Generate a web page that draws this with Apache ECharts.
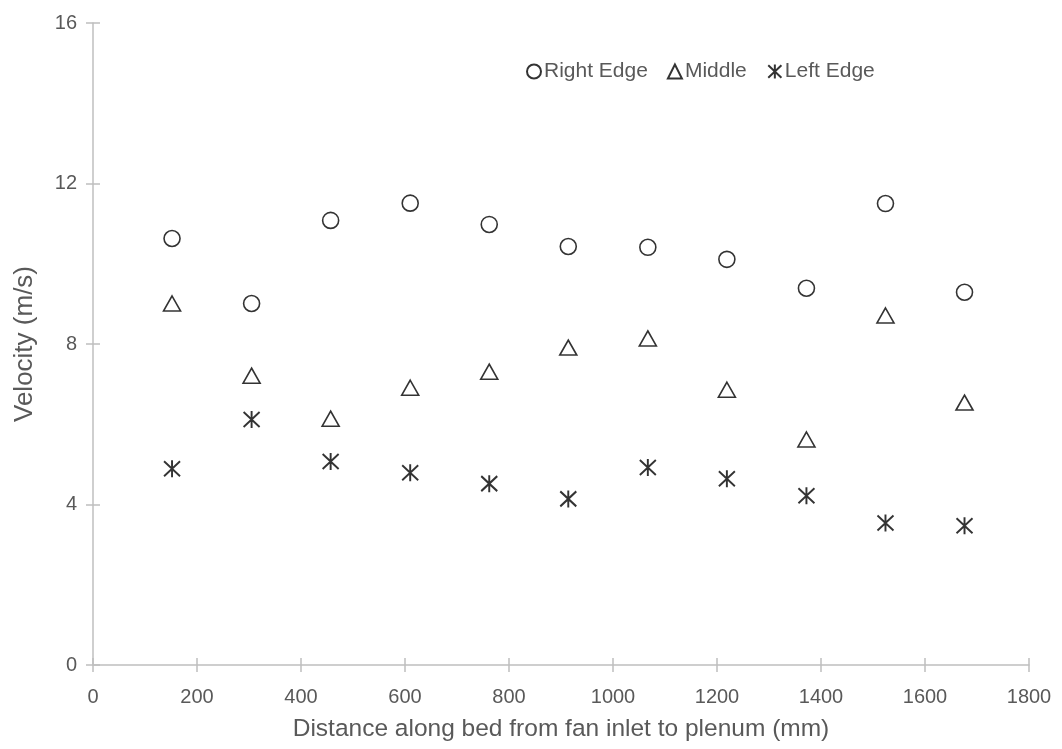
<!DOCTYPE html>
<html><head><meta charset="utf-8">
<script src="https://cdn.jsdelivr.net/npm/echarts@6/dist/echarts.min.js"></script>
<style>html,body{margin:0;padding:0;background:#fff}#c{width:1062px;height:749px}</style>
</head><body><div id="c"></div>
<script>
const distances = [152, 305, 457, 610, 762, 914, 1067, 1219, 1372, 1524, 1676];
const rightEdge = [10.63, 9.01, 11.08, 11.51, 10.98, 10.43, 10.41, 10.11, 9.39, 11.50, 9.29];
const middle    = [9.01, 7.21, 6.14, 6.91, 7.31, 7.91, 8.14, 6.86, 5.62, 8.71, 6.54];
const leftEdge  = [4.89, 6.12, 5.07, 4.79, 4.52, 4.14, 4.92, 4.64, 4.22, 3.54, 3.47];
const seriesNames = ['Right Edge', 'Middle', 'Left Edge'];
const xTitle = 'Distance along bed from fan inlet to plenum (mm)';
const yTitle = 'Velocity (m/s)';

const font = 'Liberation Sans, Arial, sans-serif';
const txt = '#595959';
const axisCol = '#BFBFBF';
const starPath = 'path://M0,-8.5L0,8.5M-8,-7.5L8,7.5M-8,7.5L8,-7.5';
const pairs = arr => distances.map((d, i) => [d, arr[i]]);
const plain = v => String(v);

const chart = echarts.init(document.getElementById('c'));
chart.setOption({
  animation: false,
  backgroundColor: '#fff',
  grid: { left: 93, right: 33, top: 23, bottom: 84, containLabel: false },
  legend: {
    top: 56, left: 521, itemGap: 19, itemWidth: 14, itemHeight: 14,
    textStyle: { color: txt, fontSize: 21, fontFamily: font, padding: [0, 0, 0, -2] },
    data: seriesNames
  },
  xAxis: [{
    type: 'value', min: 0, max: 1800, interval: 200,
    name: xTitle, nameLocation: 'middle', nameGap: 52,
    nameTextStyle: { color: txt, fontSize: 24.5, fontFamily: font },
    axisLine: { show: true, lineStyle: { color: axisCol, width: 1.5 } },
    axisTick: { show: true, length: 7, lineStyle: { color: axisCol, width: 1.5 } },
    axisLabel: { color: txt, fontSize: 20, fontFamily: font, margin: 22, formatter: plain },
    splitLine: { show: false }
  }, {
    type: 'value', min: 0, max: 1800, interval: 200, position: 'bottom',
    axisLine: { show: false },
    axisTick: { show: true, inside: true, length: 7, lineStyle: { color: axisCol, width: 1.5 } },
    axisLabel: { show: false }, splitLine: { show: false }
  }],
  yAxis: [{
    type: 'value', min: 0, max: 16, interval: 4,
    name: yTitle, nameLocation: 'middle', nameGap: 55,
    nameTextStyle: { color: txt, fontSize: 26, fontFamily: font },
    axisLine: { show: true, lineStyle: { color: axisCol, width: 1.5 } },
    axisTick: { show: true, length: 7, lineStyle: { color: axisCol, width: 1.5 } },
    axisLabel: { color: txt, fontSize: 20, fontFamily: font, margin: 16, formatter: plain },
    splitLine: { show: false }
  }, {
    type: 'value', min: 0, max: 16, interval: 4, position: 'left',
    axisLine: { show: false },
    axisTick: { show: true, inside: true, length: 7, lineStyle: { color: axisCol, width: 1.5 } },
    axisLabel: { show: false }, splitLine: { show: false }
  }],
  series: [{
    name: seriesNames[0], type: 'scatter', data: pairs(rightEdge),
    symbol: 'circle', symbolSize: 16,
    itemStyle: { color: '#fff', borderColor: '#000', borderWidth: 1.6 }
  }, {
    name: seriesNames[1], type: 'scatter', data: pairs(middle),
    symbol: 'triangle', symbolSize: [17, 15],
    itemStyle: { color: '#fff', borderColor: '#000', borderWidth: 1.6 }
  }, {
    name: seriesNames[2], type: 'scatter', data: pairs(leftEdge),
    symbol: starPath, symbolSize: [16, 17],
    itemStyle: { color: 'none', borderColor: '#000', borderWidth: 2 }
  }]
});
</script></body></html>
